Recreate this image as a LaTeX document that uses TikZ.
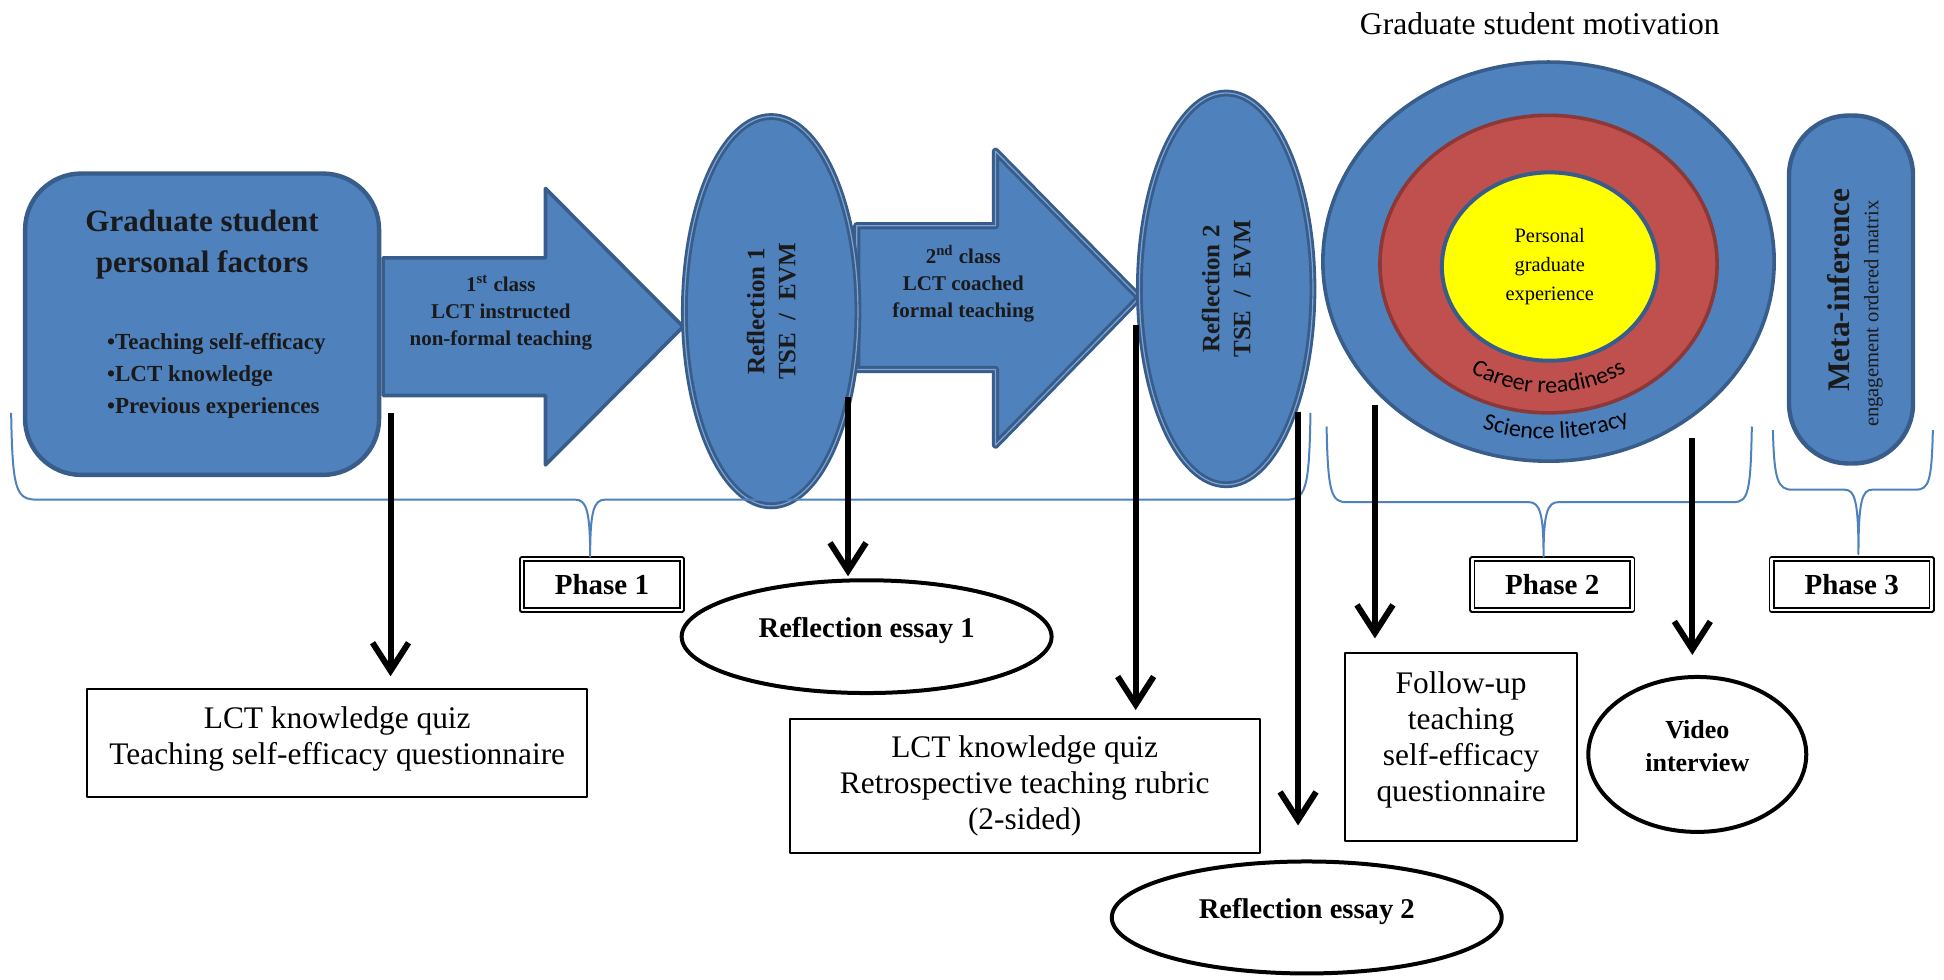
\documentclass[tikz,border=0pt]{standalone}
\usepackage{fontspec}
\setmainfont{Liberation Serif}
\newfontfamily\calib{Carlito}
\usetikzlibrary{shapes.geometric,arrows.meta,decorations.text}
\definecolor{wblue}{HTML}{4F81BD}
\definecolor{wblueline}{HTML}{385D8A}
\definecolor{wbluelight}{HTML}{7FA3D1}
\definecolor{wred}{HTML}{C0504D}
\definecolor{wredline}{HTML}{8C3836}
\definecolor{wyellow}{HTML}{FFFF00}
\definecolor{ink}{HTML}{1A1A1A}
\newcommand\fsz[2]{\fontsize{#1}{#2}\selectfont}
\tikzset{
  bluebox/.style={fill=wblue, draw=wblueline, line width=2.2pt},
  classtext/.style={font=\bfseries\fsz{10.5}{13.6}, align=center, text=ink},
  reflect/.style={ellipse, fill=wblue, draw=wblueline, line width=1.4pt, double=wbluelight,
    double distance=.6pt, rotate=90, inner sep=0pt, align=center, text=ink,
    font=\bfseries\fsz{12.5}{15.5}},
  phasebox/.style={draw, double, double distance=1.4pt, line width=.8pt, minimum width=80pt,
    minimum height=25.5pt, font=\bfseries\fsz{14.5}{17}},
  measure/.style={draw, line width=1pt, align=center, font=\fsz{15.7}{18}},
  essay/.style={ellipse, draw, line width=2pt, inner sep=0pt, align=center, font=\bfseries\fsz{14.3}{17}},
  dataarrow/.style={line width=3pt, -{Straight Barb[length=14pt,width=18pt]}},
  bracket/.style={draw=wblue, line width=1pt}
}
\begin{document}
\begin{tikzpicture}[x=0.62pt, y=-0.62pt, line join=round]
\useasboundingbox (0,0) rectangle (1568,790);

\node[font=\fsz{15.8}{18}] (motiv) at (1242,19) {Graduate student motivation};

% personal factors
\node[bluebox, rounded corners=28pt, minimum width=177pt, minimum height=150.7pt] (factors) at (163,261.5) {};
\node[font=\bfseries\fsz{15.5}{20.5}, align=center, text=ink] (factitle) at (163,197) {Graduate student\\personal factors};
\node[font=\bfseries\fsz{11.5}{16}, align=left, anchor=west, text=ink, inner sep=0pt] (faclist) at (86,303)
  {\textbullet Teaching self-efficacy\\\textbullet LCT knowledge\\\textbullet Previous experiences};

% class arrows
\draw[bluebox, line width=1.8pt] (309,208) -- (440,208) -- (440,152) -- (551,263.5) -- (440,375) -- (440,319) -- (309,319) -- cycle;
\node[classtext] (class1) at (404,252) {1\textsuperscript{st} class\\LCT instructed\\non-formal teaching};
\draw[bluebox, line width=1.5pt, double=wbluelight, double distance=.6pt] (691,182) -- (803,182) -- (803,122) -- (919,240) -- (803,359) -- (803,298) -- (691,298) -- cycle;
\node[classtext] (class2) at (777,229) {2\textsuperscript{nd} class\\LCT coached\\formal teaching};

% reflections
\node[reflect, minimum width=194.7pt, minimum height=86.8pt] (refl1) at (622,251) {Reflection 1\\TSE~~/~~EVM};
\node[reflect, minimum width=195.9pt, minimum height=86.8pt] (refl2) at (989,233) {Reflection 2\\TSE~~/~~EVM};

% motivation target
\node[ellipse, fill=wblue, draw=wblueline, line width=1.8pt, minimum width=225.7pt, minimum height=199.6pt] (outer) at (1249,211) {};
\node[ellipse, fill=wred, draw=wredline, line width=1.8pt, minimum width=168.6pt, minimum height=148.8pt] (career) at (1249,213) {};
\node[ellipse, fill=wyellow, draw=wblueline, line width=2pt, minimum width=107.9pt, minimum height=94.2pt, align=center, font=\fsz{10.2}{14.3}] (personal) at (1250,215) {Personal\\graduate\\experience};
\path[decorate, decoration={text along path, text align=center, text={|\calib\fsz{12}{13}|Career readiness}}]
  (1249,213) ++(150:116 and 104) arc[start angle=150, end angle=30, x radius=116, y radius=104];
\path[decorate, decoration={text along path, text align=center, text={|\calib\fsz{12}{13}|Science literacy}}]
  (1249,211) ++(150:161 and 143) arc[start angle=150, end angle=25, x radius=161, y radius=143];

% meta-inference
\node[bluebox, rounded corners=30pt, minimum width=62pt, minimum height=174pt] (meta) at (1493,233.5) {};
\node[rotate=90, font=\bfseries\fsz{15.7}{18}, text=ink] (metatitle) at (1483,234) {Meta-inference};
\node[rotate=90, font=\fsz{10.3}{12}, text=ink] (metasub) at (1511,253) {engagement ordered matrix};

% phases
\node[phasebox] (ph1) at (485.5,471.5) {Phase 1};
\node[phasebox] (ph2) at (1252,471.5) {Phase 2};
\node[phasebox] (ph3) at (1493.5,471.5) {Phase 3};

% instruments
\node[measure, minimum width=250pt, minimum height=54pt] (quizA) at (272,599.5) {LCT knowledge quiz\\Teaching self-efficacy questionnaire\\[-10.6pt]\mbox{}};
\node[measure, minimum width=235pt, minimum height=67pt] (quizB) at (826.5,634) {LCT knowledge quiz\\Retrospective teaching rubric\\(2-sided)};
\node[measure, minimum width=116pt, minimum height=93.6pt] (followup) at (1178.5,602.5) {Follow-up\\teaching\\self-efficacy\\questionnaire\\[-7.4pt]\mbox{}};
\node[essay, minimum width=185pt, minimum height=56.4pt] (essA) at (699,513.5) {Reflection essay 1\\[-8pt]\mbox{}};
\node[essay, minimum width=195pt, minimum height=56pt] (essB) at (1054,740) {Reflection essay 2\\[-8pt]\mbox{}};
\node[essay, minimum width=109pt, minimum height=77.5pt, font=\bfseries\fsz{13}{16.7}] (video) at (1369,608.5) {Video\\interview\\[-8pt]\mbox{}};

% braces
\draw[bracket] (9,333) .. controls (10,396) and (13,403) .. (30,403) -- (464,403)
  .. controls (473,403) and (476,412) .. (476,449) .. controls (476,412) and (479,403) .. (488,403)
  -- (1037,403) .. controls (1053,403) and (1056,396) .. (1057,333);
\draw[bracket] (1070,344) .. controls (1071,398) and (1074,405) .. (1086,405) -- (1233,405)
  .. controls (1242,405) and (1245,414) .. (1245,449) .. controls (1245,414) and (1248,405) .. (1257,405)
  -- (1398,405) .. controls (1410,405) and (1412,398) .. (1413,344);
\draw[bracket] (1430,347) .. controls (1431,388) and (1434,395) .. (1446,395) -- (1488,395)
  .. controls (1496,395) and (1499,404) .. (1499,447) .. controls (1499,404) and (1502,395) .. (1510,395)
  -- (1545,395) .. controls (1556,395) and (1558,388) .. (1559,347);

% data arrows
\coordinate (s1) at (315,333);
\coordinate (s2) at (684,320);
\coordinate (s3) at (916,262);
\coordinate (s4) at (1047,332);
\coordinate (s5) at (1109,327);
\coordinate (s6) at (1365,353);
\draw[dataarrow, shorten >=6pt] (s1) -- (s1 |- quizA.north);
\draw[dataarrow, shorten >=1pt] (s2) -- (s2 |- essA.north);
\draw[dataarrow, shorten >=4pt] (s3) -- (s3 |- quizB.north);
\draw[dataarrow, shorten >=17pt] (s4) -- (s4 |- essB.north);
\draw[dataarrow, shorten >=7pt] (s5) -- (s5 |- followup.north);
\draw[dataarrow, shorten >=10pt] (s6) -- (s6 |- video.north);
\end{tikzpicture}
\end{document}
